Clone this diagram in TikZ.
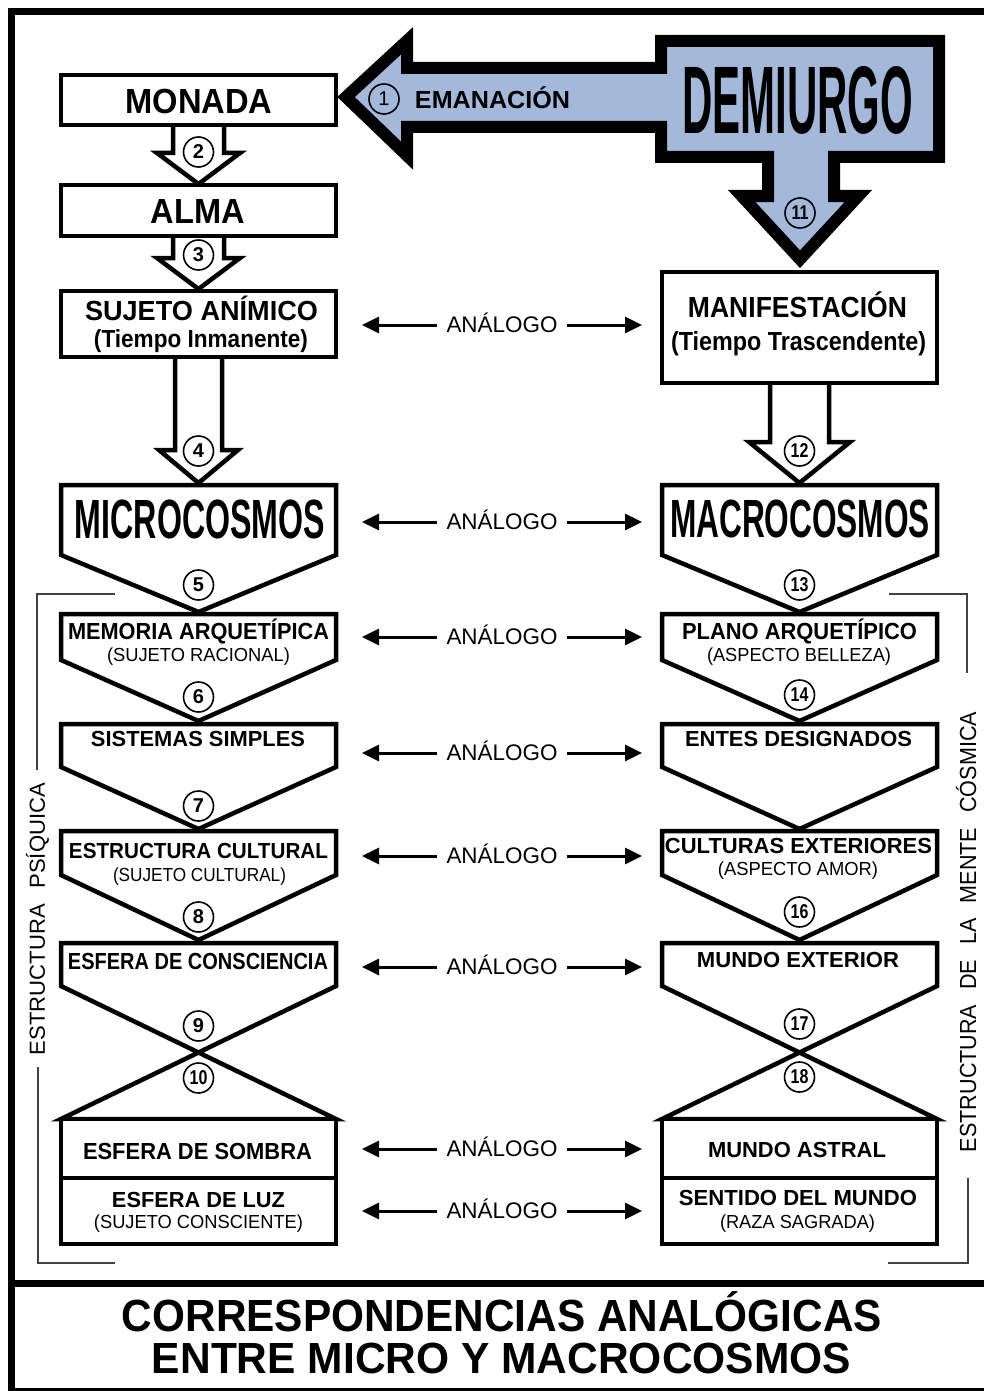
\documentclass[tikz,border=0pt]{standalone}
\usepackage{fontspec}
\setmainfont{Liberation Sans}
\usepackage{graphicx}
\usetikzlibrary{arrows.meta}
\definecolor{demblue}{RGB}{164,184,218}
\newcommand\fitt[3]{\resizebox{#1}{#2}{\smash{#3}\vphantom{A}}}
\tikzset{
  txt/.style={inner sep=0pt},
  boxst/.style={draw=black,fill=white,line width=4.5pt,line join=miter},
  blk/.style={draw=black,fill=white,line width=4.5pt,line join=miter},
  num/.style={circle,draw=black,line width=1.6pt,minimum size=30pt,inner sep=0pt,font=\fontsize{20}{20}\selectfont\bfseries},
  anlab/.style={inner xsep=9pt,inner ysep=0pt},
  anarrow/.style={line width=3pt,-{Triangle[length=17pt,width=16pt]}},
  brk/.style={draw=black!75,line width=2pt},
}
\begin{document}
\begin{tikzpicture}[x=1pt,y=-1pt]
\useasboundingbox (0,0) rectangle (984,1391);
\fill[white] (0,0) rectangle (984,1391);
\clip (0,0) rectangle (984,1391);
% frame
\draw[line width=7pt] (11.5,1400) -- (11.5,11.5) -- (1000,11.5);
\draw[line width=7pt] (8,1283.5) -- (1000,1283.5);
\draw[line width=7pt] (8,1391.5) -- (1000,1391.5);

% DEMIURGO big arrow
\filldraw[fill=demblue,draw=black,line width=12pt,line join=miter]
  (346,97) -- (407,40.8) -- (407,68) -- (661,68) -- (661,41) -- (939,41) -- (939,157)
  -- (834,157) -- (834,196) -- (858.3,196) -- (800,259.2) -- (741.7,196) -- (768,196)
  -- (768,157) -- (661,157) -- (661,127) -- (407,127) -- (407,155.6) -- cycle;
\node[txt] (demiurgo) at (797.5,100) {\fitt{231pt}{66pt}{\bfseries DEMIURGO}};
\node[txt] (emanacion) at (492.5,100) {\fitt{155pt}{17pt}{\bfseries EMANACIÓN}};
\node[num,font=\fontsize{20}{20}\selectfont] (n1) at (384,99) {1};
\node[num] (n11) at (800,213) {\scalebox{0.8}[1]{11}};

% block arrows (white)
\filldraw[blk] (173,125) -- (173,153) -- (157,153) -- (198.5,184) -- (240,153) -- (224,153) -- (224,125);
\filldraw[blk] (173,236) -- (173,258) -- (157,258) -- (198.5,289) -- (240,258) -- (224,258) -- (224,236);
\filldraw[blk] (175,357) -- (175,450) -- (159,450) -- (198.5,483) -- (238,450) -- (222,450) -- (222,357);
\filldraw[blk] (770,383) -- (770,442) -- (749,442) -- (799.5,483) -- (850,442) -- (829,442) -- (829,383);

% left column boxes
\filldraw[boxst] (61,75) rectangle (336,125);
\filldraw[boxst] (61,185) rectangle (336,236);
\filldraw[boxst] (61,291) rectangle (336,357);
\filldraw[boxst] (61,485) -- (336,485) -- (336,555) -- (198.5,612) -- (61,555) -- cycle;
\filldraw[boxst] (61,614) -- (336,614) -- (336,660) -- (198.5,721) -- (61,660) -- cycle;
\filldraw[boxst] (61,724) -- (336,724) -- (336,767) -- (198.5,829) -- (61,767) -- cycle;
\filldraw[boxst] (61,831) -- (336,831) -- (336,875) -- (198.5,940) -- (61,875) -- cycle;
\filldraw[boxst] (61,943) -- (336,943) -- (336,986) -- (61,1119) -- (336,1119) -- (61,986) -- cycle;
\filldraw[boxst] (61,1119) rectangle (336,1178);
\filldraw[boxst] (61,1178) rectangle (336,1244);

% right column boxes
\filldraw[boxst] (662,272) rectangle (937,383);
\filldraw[boxst] (662,485) -- (937,485) -- (937,555) -- (799.5,612) -- (662,555) -- cycle;
\filldraw[boxst] (662,614) -- (937,614) -- (937,660) -- (799.5,721) -- (662,660) -- cycle;
\filldraw[boxst] (662,724) -- (937,724) -- (937,767) -- (799.5,829) -- (662,767) -- cycle;
\filldraw[boxst] (662,831) -- (937,831) -- (937,875) -- (799.5,940) -- (662,875) -- cycle;
\filldraw[boxst] (662,943) -- (937,943) -- (937,986) -- (662,1119) -- (937,1119) -- (662,986) -- cycle;
\filldraw[boxst] (662,1119) rectangle (937,1178);
\filldraw[boxst] (662,1178) rectangle (937,1244);

% left texts
\node[txt] (monada) at (199,101) {\fitt{147pt}{24pt}{\bfseries MONADA}};
\node[txt] (alma) at (198,211) {\fitt{94pt}{24pt}{\bfseries ALMA}};
\node[txt] (sujeto) at (201.5,310.5) {\fitt{233pt}{19pt}{\bfseries SUJETO ANÍMICO}};
\node[txt] (sujetosub) at (201,338.5) {\fitt{214pt}{17pt}{\bfseries (Tiempo Inmanente)}};
\node[txt] (micro) at (200,519) {\fitt{250pt}{38pt}{\bfseries MICROCOSMOS}};
\node[txt] (memoria) at (198.5,631) {\fitt{261pt}{16pt}{\bfseries MEMORIA ARQUETÍPICA}};
\node[txt] (memoriasub) at (198.5,654.5) {\fitt{183pt}{13pt}{(SUJETO RACIONAL)}};
\node[txt] (sistemas) at (198,738.5) {\fitt{214pt}{15pt}{\bfseries SISTEMAS SIMPLES}};
\node[txt] (estructura) at (198.5,850.5) {\fitt{259pt}{15pt}{\bfseries ESTRUCTURA CULTURAL}};
\node[txt] (estructurasub) at (199.5,875) {\fitt{173pt}{13pt}{(SUJETO CULTURAL)}};
\node[txt] (consciencia) at (198,961) {\fitt{260pt}{16pt}{\bfseries ESFERA DE CONSCIENCIA}};
\node[txt] (sombra) at (197.5,1151) {\fitt{229pt}{16pt}{\bfseries ESFERA DE SOMBRA}};
\node[txt] (luz) at (198.5,1199.5) {\fitt{173pt}{15pt}{\bfseries ESFERA DE LUZ}};
\node[txt] (luzsub) at (198.5,1222) {\fitt{209pt}{13pt}{(SUJETO CONSCIENTE)}};

% right texts
\node[txt] (manif) at (797.5,307) {\fitt{219pt}{20pt}{\bfseries MANIFESTACIÓN}};
\node[txt] (manifsub) at (798.5,341) {\fitt{255pt}{18pt}{\bfseries (Tiempo Trascendente)}};
\node[txt] (macro) at (800,518.5) {\fitt{260pt}{37pt}{\bfseries MACROCOSMOS}};
\node[txt] (plano) at (799.5,631) {\fitt{235pt}{16pt}{\bfseries PLANO ARQUETÍPICO}};
\node[txt] (planosub) at (799,654.5) {\fitt{184pt}{13pt}{(ASPECTO BELLEZA)}};
\node[txt] (entes) at (798.5,739) {\fitt{227pt}{15pt}{\bfseries ENTES DESIGNADOS}};
\node[txt] (culturas) at (798.5,845.5) {\fitt{267pt}{15pt}{\bfseries CULTURAS EXTERIORES}};
\node[txt] (culturassub) at (798,869) {\fitt{160pt}{13pt}{(ASPECTO AMOR)}};
\node[txt] (mundoext) at (798,959.5) {\fitt{202pt}{15pt}{\bfseries MUNDO EXTERIOR}};
\node[txt] (astral) at (797,1149.5) {\fitt{178pt}{15pt}{\bfseries MUNDO ASTRAL}};
\node[txt] (sentido) at (798,1197.5) {\fitt{238pt}{15pt}{\bfseries SENTIDO DEL MUNDO}};
\node[txt] (sentidosub) at (797.5,1221.5) {\fitt{155pt}{13pt}{(RAZA SAGRADA)}};

% numbers
\node[num] (n2) at (198.5,152) {2};
\node[num] (n3) at (198.5,255) {3};
\node[num] (n4) at (198.5,451) {4};
\node[num] (n12) at (799.5,451) {\scalebox{0.8}[1]{12}};
\node[num] (n5) at (198.5,585) {5};
\node[num] (n13) at (799.5,585) {\scalebox{0.8}[1]{13}};
\node[num] (n6) at (198.5,697) {6};
\node[num] (n14) at (799.5,695) {\scalebox{0.8}[1]{14}};
\node[num] (n7) at (198.5,806) {7};
\node[num] (n8) at (198.5,917) {8};
\node[num] (n16) at (799.5,912) {\scalebox{0.8}[1]{16}};
\node[num] (n9) at (198.5,1026) {9};
\node[num] (n17) at (799.5,1024) {\scalebox{0.8}[1]{17}};
\node[num] (n10) at (198.5,1078) {\scalebox{0.8}[1]{10}};
\node[num] (n18) at (799.5,1077) {\scalebox{0.8}[1]{18}};

% ANALOGO connectors
\foreach \k/\yy in {1/325,2/522,3/637,4/753,5/856,6/967,7/1149,8/1211}{
  \node[anlab] (an\k) at (502,\yy) {\fitt{111pt}{15.5pt}{ANÁLOGO}};
  \coordinate (al\k) at (362,\yy);
  \coordinate (ar\k) at (642,\yy);
  \draw[anarrow] (an\k.west) -- (al\k);
  \draw[anarrow] (an\k.east) -- (ar\k);
}

% side labels and brackets
\node[txt,rotate=90] (psiquica) at (37.5,919) {\fitt{272pt}{15pt}{ESTRUCTURA\hspace{0.7em}PSÍQUICA}};
\node[txt,rotate=90] (cosmica) at (968,932) {\fitt{440pt}{16pt}{ESTRUCTURA\hspace{0.7em}DE\hspace{0.7em}LA\hspace{0.7em}MENTE\hspace{0.7em}CÓSMICA}};
\draw[brk] (115,594) -- (36.5,594) -- (36.5,770);
\draw[brk] (37.5,1067) -- (37.5,1263) -- (115,1263);
\draw[brk] (889,594) -- (967,594) -- (967,673);
\draw[brk] (968,1178) -- (968,1263) -- (888,1263);

% title
\node[txt] (title1) at (502,1315.5) {\fitt{760pt}{31pt}{\bfseries CORRESPONDENCIAS ANALÓGICAS}};
\node[txt] (title2) at (501.5,1358.5) {\fitt{699pt}{30pt}{\bfseries ENTRE MICRO Y MACROCOSMOS}};
\end{tikzpicture}
\end{document}
